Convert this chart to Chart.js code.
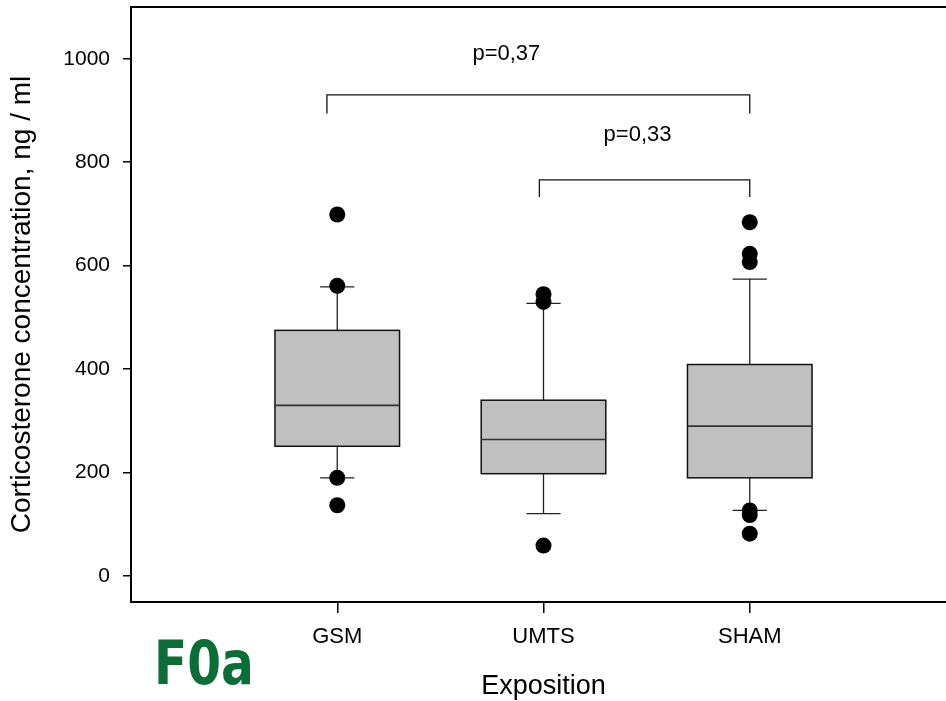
<!DOCTYPE html>
<html>
<head>
<meta charset="utf-8">
<script src="https://cdn.jsdelivr.net/npm/chart.js@4"></script>
<style>
  html, body { margin: 0; padding: 0; background: #fff; overflow: hidden; }
  #wrap { position: relative; width: 946px; height: 701px; overflow: hidden; }
  canvas { display: block; }
</style>
</head>
<body>
<div id="wrap"><canvas id="c" width="956" height="701"></canvas></div>
<script>
// ---- data ----
const categories = ['GSM', 'UMTS', 'SHAM'];
const whiskerLow  = [190, 121, 127];
const q1Values    = [251, 198, 190];
const medianValues= [330, 264, 290];
const q3Values    = [475, 340, 409];
const whiskerHigh = [559, 527, 574];
const gsmOutliers  = [699, 561, 190, 137];
const umtsOutliers = [545, 530, 59];
const shamOutliers = [684, 623, 607, 127, 118, 82];
const yTickValues = [0, 200, 400, 600, 800, 1000];
const xTickValues = [1, 2, 3];
// comparison brackets (in data units)
const bracketFrom = [0.95, 1.98];
const bracketTo   = [3.0, 3.0];
const bracketTop  = [930, 766];
const bracketLeg  = [894, 733];
const pLabels     = ['p=0,37', 'p=0,33'];
const pLabelX     = [1.82, 2.456];
const pLabelY     = [1010, 853];

const FONT = "'Liberation Sans', Arial, sans-serif";

const outlierPoints = [];
[gsmOutliers, umtsOutliers, shamOutliers].forEach((arr, i) => {
  arr.forEach(v => outlierPoints.push({x: i + 1, y: v}));
});

const boxPlugin = {
  id: 'boxes',
  beforeDatasetsDraw(chart) {
    const {ctx, scales: {x, y}} = chart;
    ctx.save();
    categories.forEach((c, i) => {
      const cx = x.getPixelForValue(i + 1);
      const hw = x.getPixelForValue(i + 1 + 0.302) - cx;
      const cw = x.getPixelForValue(i + 1 + 0.083) - cx;
      const yl = y.getPixelForValue(whiskerLow[i]);
      const y1 = y.getPixelForValue(q1Values[i]);
      const ym = y.getPixelForValue(medianValues[i]);
      const y3 = y.getPixelForValue(q3Values[i]);
      const yh = y.getPixelForValue(whiskerHigh[i]);
      ctx.strokeStyle = '#222';
      ctx.lineWidth = 1.3;
      ctx.beginPath();
      ctx.moveTo(cx, y3); ctx.lineTo(cx, yh);
      ctx.moveTo(cx - cw, yh); ctx.lineTo(cx + cw, yh);
      ctx.moveTo(cx, y1); ctx.lineTo(cx, yl);
      ctx.moveTo(cx - cw, yl); ctx.lineTo(cx + cw, yl);
      ctx.stroke();
      ctx.fillStyle = '#c0c0c0';
      ctx.fillRect(cx - hw, y3, 2 * hw, y1 - y3);
      ctx.strokeStyle = '#111';
      ctx.lineWidth = 1.5;
      ctx.strokeRect(cx - hw, y3, 2 * hw, y1 - y3);
      ctx.strokeStyle = '#333';
      ctx.lineWidth = 1.6;
      ctx.beginPath();
      ctx.moveTo(cx - hw, ym); ctx.lineTo(cx + hw, ym);
      ctx.stroke();
    });
    ctx.restore();
  },
  afterDraw(chart) {
    const {ctx, chartArea, scales: {x, y}} = chart;
    ctx.save();
    ctx.strokeStyle = '#000';
    ctx.lineWidth = 2;
    ctx.beginPath();
    ctx.moveTo(chartArea.left, chartArea.top);
    ctx.lineTo(chartArea.right, chartArea.top);
    ctx.stroke();
    ctx.strokeStyle = '#111';
    ctx.lineWidth = 1.3;
    bracketFrom.forEach((f, i) => {
      const xa = x.getPixelForValue(f), xb = x.getPixelForValue(bracketTo[i]);
      const yt = y.getPixelForValue(bracketTop[i]), yb = y.getPixelForValue(bracketLeg[i]);
      ctx.beginPath();
      ctx.moveTo(xa, yb); ctx.lineTo(xa, yt); ctx.lineTo(xb, yt); ctx.lineTo(xb, yb);
      ctx.stroke();
    });
    ctx.fillStyle = '#000';
    ctx.font = '22px ' + FONT;
    ctx.textAlign = 'center';
    ctx.textBaseline = 'middle';
    pLabels.forEach((t, i) => {
      ctx.fillText(t, x.getPixelForValue(pLabelX[i]), y.getPixelForValue(pLabelY[i]));
    });
    // panel label
    ctx.fillStyle = '#0b6e36';
    ctx.font = "bold 60px 'DejaVu Sans Condensed', 'DejaVu Sans', sans-serif";
    ctx.textAlign = 'left';
    ctx.textBaseline = 'alphabetic';
    ctx.translate(154, 684);
    ctx.scale(0.9, 1);
    ctx.fillText('F0a', 0, 0);
    ctx.restore();
  }
};

new Chart(document.getElementById('c'), {
  type: 'scatter',
  data: {
    datasets: [{
      data: outlierPoints,
      pointRadius: 8,
      pointHoverRadius: 8,
      pointBackgroundColor: '#000',
      pointBorderColor: '#000',
      pointBorderWidth: 0
    }]
  },
  options: {
    responsive: false,
    animation: false,
    events: [],
    layout: { autoPadding: false, padding: { top: 7, left: 0, right: 0, bottom: 0 } },
    plugins: { legend: { display: false }, tooltip: { enabled: false } },
    scales: {
      x: {
        type: 'linear', min: 0, max: 4,
        afterBuildTicks: s => { s.ticks = xTickValues.map(v => ({value: v})); },
        afterFit: s => { s.height = 99; s.paddingLeft = 0; s.paddingRight = 0; },
        ticks: {
          callback: v => categories[v - 1],
          font: { size: 22, family: FONT }, color: '#000',
          padding: 11, autoSkip: false, maxRotation: 0
        },
        grid: { drawOnChartArea: false, drawTicks: true, tickLength: 11, color: '#000', lineWidth: 1.5 },
        border: { color: '#000', width: 2 },
        title: { display: true, text: 'Exposition', color: '#000',
                 font: { size: 27, family: FONT }, padding: { top: 0, bottom: -2 } }
      },
      y: {
        type: 'linear', min: -50, max: 1100,
        afterBuildTicks: s => { s.ticks = yTickValues.map(v => ({value: v})); },
        afterFit: s => { s.width = 131; s.paddingTop = 0; s.paddingBottom = 0; },
        ticks: { font: { size: 21, family: FONT }, color: '#000', padding: 13,
                 callback: v => String(v) },
        grid: { drawOnChartArea: false, drawTicks: true, tickLength: 8, color: '#000', lineWidth: 1.5 },
        border: { color: '#000', width: 2 },
        title: { display: true, text: 'Corticosterone concentration, ng / ml', color: '#000',
                 font: { size: 28, family: FONT }, padding: { top: 5, bottom: 0 } }
      }
    }
  },
  plugins: [boxPlugin]
});
</script>
</body>
</html>
